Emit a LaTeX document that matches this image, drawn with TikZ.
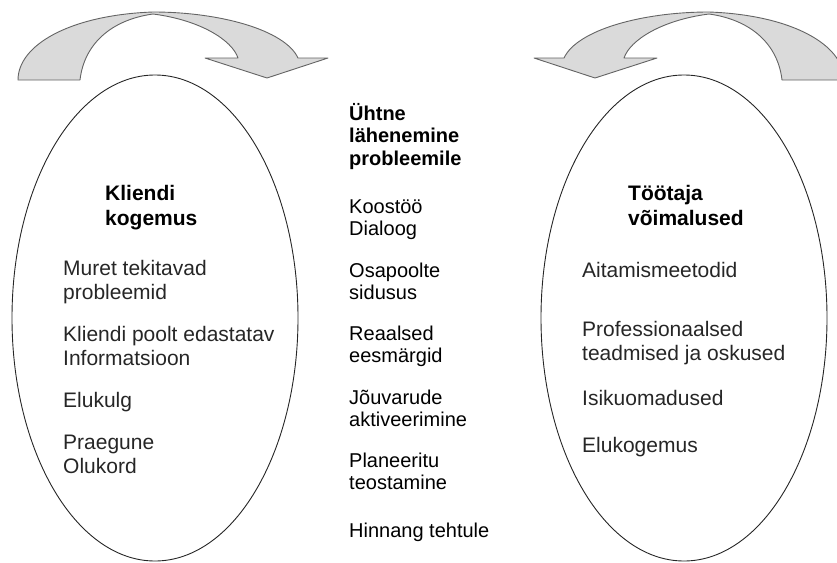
\documentclass[tikz,border=0pt]{standalone}
\usepackage{fontspec}
\setmainfont{Liberation Sans}
\usetikzlibrary{positioning}
\definecolor{band}{RGB}{218,218,218}
\definecolor{rim}{RGB}{100,100,100}
\tikzset{
  oval/.style={draw=black!85,line width=0.9pt},
  arrowband/.style={fill=band,draw=rim,line width=0.9pt,line join=round},
  head/.style={font=\fontsize{21}{25}\selectfont\bfseries,align=left,
    inner sep=0pt,anchor=base west},
  item/.style={font=\fontsize{21}{24}\selectfont,align=left,
    inner sep=0pt,anchor=base west,text=black!85},
  mid/.style={font=\fontsize{20}{22}\selectfont,align=left,
    inner sep=0pt,anchor=base west},
}

\begin{document}
\begin{tikzpicture}[x=1pt,y=-1pt]
  \useasboundingbox (0,0) rectangle (837,562);

  % turning arrows on top
  \draw[arrowband] (18,80) -- (80,80)
    .. controls (84,45) and (110,20) .. (153,14)
    .. controls (200,20) and (232,40) .. (238,58)
    -- (205,58) -- (267,78) -- (328,58) -- (298,58)
    .. controls (285,30) and (220,12) .. (153,12)
    .. controls (70,15) and (18,45) .. (18,80) -- cycle;
  \draw[arrowband] (844,80) -- (782,80)
    .. controls (778,45) and (752,20) .. (709,14)
    .. controls (662,20) and (630,40) .. (624,58)
    -- (657,58) -- (595,78) -- (534,58) -- (564,58)
    .. controls (577,30) and (642,12) .. (709,12)
    .. controls (792,15) and (844,45) .. (844,80) -- cycle;

  % the two ovals
  \draw[oval] (155,318) ellipse [x radius=143pt,y radius=243pt];
  \draw[oval] (684,318) ellipse [x radius=143pt,y radius=243pt];

  % client side
  \node[head] (kl0) at (105,225) {Kliendi\\kogemus};
  \node[item] (kl1) at (63,299) {Muret tekitavad\\probleemid};
  \node[item] (kl2) at (63,365) {Kliendi poolt edastatav\\Informatsioon};
  \node[item] (kl3) at (63,407) {Elukulg};
  \node[item] (kl4) at (63,473) {Praegune\\Olukord};

  % common ground
  \node[mid,font=\fontsize{20}{22.5}\selectfont\bfseries] (uh0) at (349,165)
    {Ühtne\\lähenemine\\probleemile};
  \node[mid] (uh1) at (349,235) {Koostöö\\Dialoog};
  \node[mid] (uh2) at (349,299) {Osapoolte\\sidusus};
  \node[mid] (uh3) at (349,362) {Reaalsed\\eesmärgid};
  \node[mid] (uh4) at (349,426) {Jõuvarude\\aktiveerimine};
  \node[mid] (uh5) at (349,489) {Planeeritu\\teostamine};
  \node[mid] (uh6) at (349,537) {Hinnang tehtule};

  % worker side
  \node[head] (to0) at (628,225) {Töötaja\\võimalused};
  \node[item] (to1) at (582,277) {Aitamismeetodid};
  \node[item] (to2) at (582,360) {Professionaalsed\\teadmised ja oskused};
  \node[item] (to3) at (582,405) {Isikuomadused};
  \node[item] (to4) at (582,452) {Elukogemus};
\end{tikzpicture}
\end{document}
